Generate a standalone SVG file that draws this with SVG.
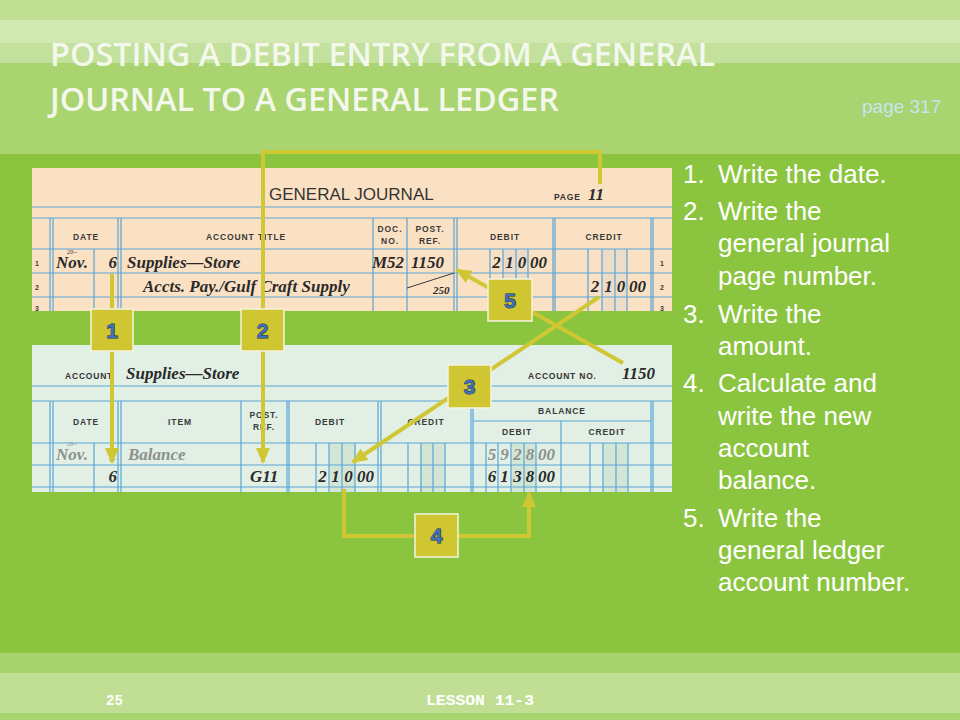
<svg xmlns="http://www.w3.org/2000/svg" width="960" height="720" viewBox="0 0 960 720">
<defs>
<style>
.title{font-family:"Open Sans","Liberation Sans",sans-serif;font-weight:600;font-size:32px;fill:#f4f8ec}
.hdr{font-family:"Liberation Sans",Arial,sans-serif;font-weight:bold;font-size:8.5px;fill:#3a3a3a;letter-spacing:0.9px;text-anchor:middle}
.ln{font-family:"Liberation Sans",Arial,sans-serif;font-weight:bold;font-size:7px;fill:#3a3a3a;text-anchor:middle}
.hw{font-family:"Liberation Serif","Times New Roman",serif;font-weight:bold;font-style:italic;font-size:17px;fill:#2a2a2a}
.sup{font-family:"Liberation Serif","Times New Roman",serif;font-style:italic;font-size:6px}
.gray{fill:#8c918c}
.dig{text-anchor:middle}
.g{stroke:#5aa5d6;stroke-width:1.2;fill:none}
.shj{fill:#ecdcc8}
.shl{fill:#d3e6d6}
.con{stroke:#d0c734;stroke-width:4;fill:none}
.badge rect{fill:#cfc631;stroke:#f4f4e0;stroke-width:1.5}
.badge text{font-family:"Liberation Sans",Arial,sans-serif;font-weight:bold;font-size:21px;fill:#3f71b8;stroke:#1d2c44;stroke-width:1;paint-order:stroke;text-anchor:middle}
.list{font-family:"Liberation Sans",Arial,sans-serif;font-size:26px;fill:#ffffff}
.foot{font-family:"Liberation Mono","Courier New",monospace;font-weight:bold;font-size:14px;fill:#ffffff}
</style>
<marker id="ah" markerUnits="userSpaceOnUse" markerWidth="16" markerHeight="14" refX="14" refY="7" orient="auto">
<path d="M0,0 L16,7 L0,14 Z" fill="#d0c734"/>
</marker>
</defs>

<!-- background bands -->
<rect x="0" y="0" width="960" height="720" fill="#8bc53f"/>
<rect x="0" y="0" width="960" height="20" fill="#c0df93"/>
<rect x="0" y="20" width="960" height="23" fill="#d1e8b0"/>
<rect x="0" y="43" width="960" height="20" fill="#c3e19c"/>
<rect x="0" y="63" width="960" height="91" fill="#a9d46f"/>
<rect x="0" y="653" width="960" height="20" fill="#a8d46f"/>
<rect x="0" y="673" width="960" height="40" fill="#c1df94"/>
<rect x="0" y="713" width="960" height="7" fill="#a8d46f"/>

<g id="title">
<text class="title" x="50" y="66" textLength="665" lengthAdjust="spacingAndGlyphs">POSTING A DEBIT ENTRY FROM A GENERAL</text>
<text class="title" x="50" y="111" textLength="509" lengthAdjust="spacingAndGlyphs">JOURNAL TO A GENERAL LEDGER</text>
<text x="862" y="113" font-family="Liberation Sans, Arial, sans-serif" font-size="19" fill="#c5e6ee">page 317</text>
</g>

<!-- GENERAL JOURNAL -->
<g id="journal">
<rect x="32" y="168" width="640" height="143" fill="#fbe1c3"/>
<rect class="shj" x="503" y="249" width="25" height="62"/>
<rect class="shj" x="602" y="249" width="25" height="62"/>
<text x="269" y="200" font-family="Liberation Sans, Arial, sans-serif" font-size="17" fill="#333">GENERAL JOURNAL</text>
<text x="554" y="200" font-family="Liberation Sans, Arial, sans-serif" font-weight="bold" font-size="8.5" fill="#333" letter-spacing="0.8">PAGE</text>
<text class="hw" x="588" y="200">11</text>
<g class="g">
<line x1="32" y1="207" x2="672" y2="207"/>
<line x1="32" y1="218" x2="672" y2="218"/>
<line x1="32" y1="249" x2="672" y2="249"/>
<line x1="32" y1="273" x2="672" y2="273"/>
<line x1="32" y1="297" x2="672" y2="297"/>
<path d="M50,218V311M53,218V311M94,249V311M118,218V311M121,218V311M373,218V311M407,218V311M454,218V311M457,218V311M553,218V311M555,218V311M651,218V311M653,218V311"/>
<path d="M490,249V311M503,249V311M516,249V311M528,249V311M588,249V311M602,249V311M615,249V311M627,249V311"/>
</g>
<text class="hdr" x="86" y="240">DATE</text>
<text class="hdr" x="246" y="240">ACCOUNT TITLE</text>
<text class="hdr" x="390" y="232">DOC.</text>
<text class="hdr" x="390" y="244">NO.</text>
<text class="hdr" x="430" y="232">POST.</text>
<text class="hdr" x="430" y="244">REF.</text>
<text class="hdr" x="505" y="240">DEBIT</text>
<text class="hdr" x="604" y="240">CREDIT</text>
<text class="ln" x="37" y="266">1</text>
<text class="ln" x="37" y="290">2</text>
<text class="ln" x="37" y="311">3</text>
<text class="ln" x="662" y="266">1</text>
<text class="ln" x="662" y="290">2</text>
<text class="ln" x="662" y="311">3</text>
<text class="sup" x="67" y="254" fill="#2a2a2a">20--</text>
<text class="hw" x="56" y="268">Nov.</text>
<text class="hw" x="117" y="268" text-anchor="end">6</text>
<text class="hw" x="127" y="268">Supplies—Store</text>
<text class="hw" x="143" y="292">Accts. Pay./Gulf Craft Supply</text>
<text class="hw" x="372" y="268">M52</text>
<text class="hw" x="411" y="268">1150</text>
<line x1="407" y1="288" x2="454" y2="273" stroke="#3a3a3a" stroke-width="1"/>
<text x="433" y="294" font-family="Liberation Serif, serif" font-weight="bold" font-style="italic" font-size="11" fill="#2a2a2a">250</text>
<text class="hw dig" x="496.5" y="268">2</text>
<text class="hw dig" x="509.5" y="268">1</text>
<text class="hw dig" x="522" y="268">0</text>
<text class="hw" x="530" y="268">00</text>
<text class="hw dig" x="595" y="292">2</text>
<text class="hw dig" x="608.5" y="292">1</text>
<text class="hw dig" x="621" y="292">0</text>
<text class="hw" x="629" y="292">00</text>
</g>

<!-- LEDGER ACCOUNT -->
<g id="ledger">
<rect x="32" y="345" width="640" height="147" fill="#e1efe5"/>
<rect class="shl" x="329" y="443" width="26" height="49"/>
<rect class="shl" x="420" y="443" width="25" height="49"/>
<rect class="shl" x="511" y="443" width="25" height="49"/>
<rect class="shl" x="603" y="443" width="25" height="49"/>
<text x="65" y="379" font-family="Liberation Sans, Arial, sans-serif" font-weight="bold" font-size="8.5" fill="#333" letter-spacing="0.8">ACCOUNT</text>
<text class="hw" x="126" y="379" font-size="18">Supplies—Store</text>
<text x="528" y="379" font-family="Liberation Sans, Arial, sans-serif" font-weight="bold" font-size="8.5" fill="#333" letter-spacing="0.8">ACCOUNT NO.</text>
<text class="hw" x="622" y="379" font-size="18">1150</text>
<g class="g">
<line x1="32" y1="386" x2="672" y2="386"/>
<line x1="32" y1="401" x2="672" y2="401"/>
<line x1="473" y1="421" x2="651" y2="421"/>
<line x1="32" y1="443" x2="672" y2="443"/>
<line x1="32" y1="465" x2="672" y2="465"/>
<line x1="32" y1="487" x2="672" y2="487"/>
<path d="M50,401V492M53,401V492M94,443V492M118,401V492M121,401V492M241,401V492M287,401V492M289,401V492M378,401V492M381,401V492M471,401V492M473,401V492M561,421V492M651,401V492M653,401V492"/>
<path d="M316,443V492M329,443V492M342,443V492M355,443V492M408,443V492M421,443V492M433,443V492M445,443V492M486,443V492M498,443V492M511,443V492M524,443V492M536,443V492M590,443V492M603,443V492M616,443V492M628,443V492"/>
</g>
<text class="hdr" x="86" y="425">DATE</text>
<text class="hdr" x="180" y="425">ITEM</text>
<text class="hdr" x="264" y="418">POST.</text>
<text class="hdr" x="264" y="430">REF.</text>
<text class="hdr" x="330" y="425">DEBIT</text>
<text class="hdr" x="426" y="425">CREDIT</text>
<text class="hdr" x="562" y="414">BALANCE</text>
<text class="hdr" x="517" y="435">DEBIT</text>
<text class="hdr" x="607" y="435">CREDIT</text>
<text class="sup" x="67" y="446" fill="#8c918c">20--</text>
<text class="hw gray" x="56" y="460">Nov.</text>
<text class="hw gray" x="117" y="460" text-anchor="end">1</text>
<text class="hw gray" x="128" y="460">Balance</text>
<text class="hw gray dig" x="492" y="460">5</text>
<text class="hw gray dig" x="504.5" y="460">9</text>
<text class="hw gray dig" x="517.5" y="460">2</text>
<text class="hw gray dig" x="530" y="460">8</text>
<text class="hw gray" x="538" y="460">00</text>
<text class="hw" x="117" y="482" text-anchor="end">6</text>
<text class="hw" x="250" y="482">G11</text>
<text class="hw dig" x="322.5" y="482">2</text>
<text class="hw dig" x="335.5" y="482">1</text>
<text class="hw dig" x="348.5" y="482">0</text>
<text class="hw" x="357" y="482">00</text>
<text class="hw dig" x="492" y="482">6</text>
<text class="hw dig" x="504.5" y="482">1</text>
<text class="hw dig" x="517.5" y="482">3</text>
<text class="hw dig" x="530" y="482">8</text>
<text class="hw" x="538" y="482">00</text>
</g>

<!-- connectors -->
<g id="connectors">
<path class="con" d="M112,274 V462" marker-end="url(#ah)"/>
<path class="con" d="M600,184 V152 H263 V462" marker-end="url(#ah)"/>
<path class="con" d="M599,297 L353,462" marker-end="url(#ah)"/>
<path class="con" d="M344,489 V536 H529 V493" marker-end="url(#ah)"/>
<path class="con" d="M623,363 L457,270" marker-end="url(#ah)"/>
</g>

<!-- badges -->
<g id="badge1" class="badge"><rect x="91" y="309" width="42" height="42"/><text x="112" y="338">1</text></g>
<g id="badge2" class="badge"><rect x="241" y="309" width="43" height="42"/><text x="262.5" y="338">2</text></g>
<g id="badge5" class="badge"><rect x="488" y="279" width="44" height="42"/><text x="510" y="308">5</text></g>
<g id="badge3" class="badge"><rect x="448" y="365" width="43" height="43"/><text x="469.5" y="394">3</text></g>
<g id="badge4" class="badge"><rect x="415" y="514" width="43" height="43"/><text x="436.5" y="543">4</text></g>

<!-- step list -->
<g id="steps" class="list">
<text x="683" y="183">1.</text><text x="718" y="183">Write the date.</text>
<text x="683" y="220">2.</text><text x="718" y="220">Write the</text>
<text x="718" y="252">general journal</text>
<text x="718" y="285">page number.</text>
<text x="683" y="323">3.</text><text x="718" y="323">Write the</text>
<text x="718" y="355">amount.</text>
<text x="683" y="392">4.</text><text x="718" y="392">Calculate and</text>
<text x="718" y="425">write the new</text>
<text x="718" y="457">account</text>
<text x="718" y="489">balance.</text>
<text x="683" y="527">5.</text><text x="718" y="527">Write the</text>
<text x="718" y="559">general ledger</text>
<text x="718" y="591">account number.</text>
</g>

<g id="footer">
<text class="foot" x="106" y="705">25</text>
<text class="foot" x="426" y="705" textLength="108" lengthAdjust="spacingAndGlyphs">LESSON 11-3</text>
</g>
</svg>
